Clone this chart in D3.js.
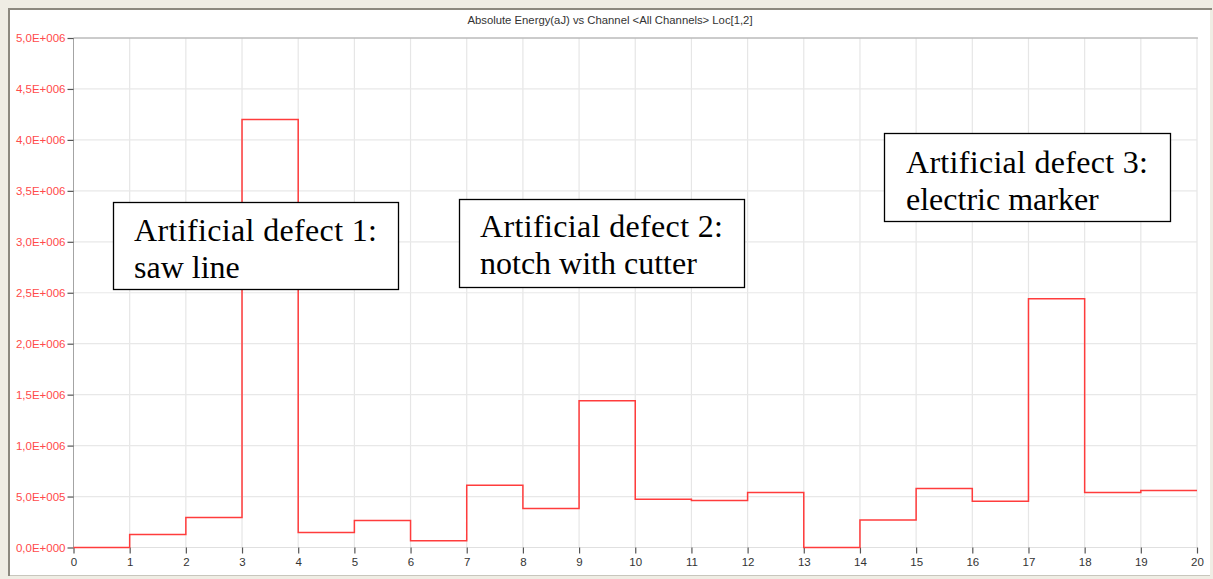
<!DOCTYPE html>
<html><head><meta charset="utf-8">
<script src="https://cdn.jsdelivr.net/npm/d3@7"></script>
<style>
html,body{margin:0;padding:0;background:#fff;}
svg{display:block;}
</style></head>
<body><svg id="c" width="1213" height="579"></svg>
<script>
const channels = [0,1,2,3,4,5,6,7,8,9,10,11,12,13,14,15,16,17,18,19];
const energy = [0, 128000, 295000, 4200000, 147000, 265000, 66000, 612000, 383000, 1440000, 474000, 462000, 540000, 0, 271000, 580000, 455000, 2440000, 540000, 560000];
const xTicks = d3.range(0, 21);
const yTicks = [0, 500000, 1000000, 1500000, 2000000, 2500000, 3000000, 3500000, 4000000, 4500000, 5000000];
const title = "Absolute Energy(aJ) vs Channel <All Channels> Loc[1,2]";
const noteLine1 = ["Artificial defect 1:", "Artificial defect 2:", "Artificial defect 3:"];
const noteLine2 = ["saw line", "notch with cutter", "electric marker"];
const boxes = [
  {box: [113, 202, 285, 87], tx: 134, b1: 241, b2: 278, w: 243},
  {box: [459, 199, 285, 88], tx: 480, b1: 237, b2: 274, w: 243},
  {box: [884, 133, 286, 88], tx: 906, b1: 173, b2: 210, w: 242}
];

const svg = d3.select("#c");
// window frame
svg.append("rect").attr("x",0).attr("y",0).attr("width",1213).attr("height",579).attr("fill","#efede4");
svg.append("rect").attr("x",8).attr("y",8).attr("width",1202).attr("height",568).attr("fill","#ffffff");
svg.append("rect").attr("x",8).attr("y",8).attr("width",1204).attr("height",2).attr("fill","#8c897f");
svg.append("rect").attr("x",8).attr("y",8).attr("width",2).attr("height",568).attr("fill","#8c897f");
svg.append("rect").attr("x",10).attr("y",575).attr("width",1200).attr("height",1).attr("fill","#c8c6bd");

const x = d3.scaleLinear().domain([0,20]).range([73.5,1197]);
const y = d3.scaleLinear().domain([0,5000000]).range([547.5,38]);

// grid
svg.append("g").selectAll("line").data(xTicks.slice(1)).join("line")
  .attr("x1",d=>x(d)).attr("x2",d=>x(d)).attr("y1",y(5000000)).attr("y2",y(0))
  .attr("stroke","#e6e6e6").attr("stroke-width",1.2);
svg.append("g").selectAll("line").data(yTicks.slice(1)).join("line")
  .attr("x1",x(0)).attr("x2",x(20)).attr("y1",d=>y(d)).attr("y2",d=>y(d))
  .attr("stroke","#e8e8e8").attr("stroke-width",1.2);
svg.append("line").attr("x1",x(0)).attr("x2",x(20)).attr("y1",y(0)).attr("y2",y(0)).attr("stroke","#e0e0e0");
svg.append("line").attr("x1",x(0)).attr("x2",x(20)+1).attr("y1",y(5000000)).attr("y2",y(5000000)).attr("stroke","#a4a4a4");
svg.append("line").attr("x1",x(0)).attr("x2",x(0)).attr("y1",y(5000000)).attr("y2",y(0)).attr("stroke","#a4a4a4");

function fmt(v){
  if (v===0) return "0,0E+000";
  const e = Math.floor(Math.log10(v));
  const m = v/Math.pow(10,e);
  return m.toFixed(1).replace(".",",") + "E+" + String(e).padStart(3,"0");
}

const yAxis = d3.axisLeft(y).tickValues(yTicks).tickFormat(fmt).tickSize(6).tickPadding(2);
const gy = svg.append("g").attr("transform",`translate(${x(0)},0)`).call(yAxis);
gy.select(".domain").remove();
gy.selectAll(".tick line").attr("stroke","#555").attr("stroke-width",1.2);
gy.selectAll(".tick text").attr("fill","#ff4a4a").attr("font-family","'Liberation Sans', Arial, sans-serif").attr("font-size","11.5px");

const xAxis = d3.axisBottom(x).tickValues(xTicks).tickFormat(d3.format("d")).tickSize(6).tickPadding(4);
const gx = svg.append("g").attr("transform",`translate(0,${y(0)})`).call(xAxis);
gx.select(".domain").remove();
gx.selectAll(".tick line").attr("stroke","#555").attr("stroke-width",1.2);
gx.selectAll(".tick text").attr("fill","#333").attr("font-family","'Liberation Sans', Arial, sans-serif").attr("font-size","11.5px");

// title
svg.append("text").attr("x",610).attr("y",24).attr("text-anchor","middle")
  .attr("font-family","'Liberation Sans', Arial, sans-serif").attr("font-size","11.3px").attr("fill","#333").text(title);

// step line
const pts = channels.map((c,i)=>[c, energy[i]]).concat([[20, energy[energy.length-1]]]);
const line = d3.line().x(d=>x(d[0])).y(d=>y(d[1])).curve(d3.curveStepAfter);
svg.append("path").datum(pts).attr("d",line).attr("fill","none").attr("stroke","#ff3c3c").attr("stroke-width",1.5);

// annotation boxes
boxes.forEach((b,i)=>{
  const g = svg.append("g");
  g.append("rect").attr("x",b.box[0]+0.5).attr("y",b.box[1]+0.5).attr("width",b.box[2]).attr("height",b.box[3])
    .attr("fill","#fff").attr("stroke","#000").attr("stroke-width",1.3);
  g.append("text").attr("x",b.tx).attr("y",b.b1).attr("font-family","'Liberation Serif', 'Times New Roman', serif")
    .attr("font-size","32px").attr("fill","#000").attr("textLength",b.w).attr("lengthAdjust","spacing").text(noteLine1[i]);
  g.append("text").attr("x",b.tx).attr("y",b.b2).attr("font-family","'Liberation Serif', 'Times New Roman', serif")
    .attr("font-size","32px").attr("fill","#000").text(noteLine2[i]);
});
</script></body></html>
